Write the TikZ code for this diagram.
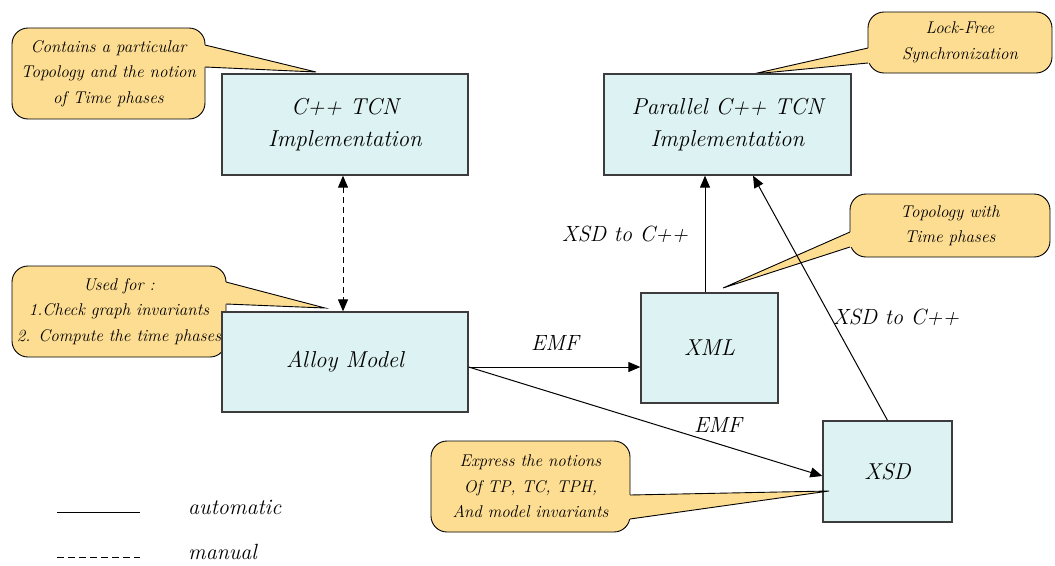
\documentclass[tikz,border=0pt]{standalone}
\usepackage{fontspec}
\usetikzlibrary{arrows.meta,calc}
\definecolor{boxfill}{RGB}{221,242,242}
\definecolor{boxline}{RGB}{60,60,60}
\definecolor{notefill}{RGB}{253,221,145}

\begin{document}
\begin{tikzpicture}[x=1pt,y=-1pt,
  procbox/.style={draw=boxline, line width=1.3pt, fill=boxfill, inner sep=0pt,
    align=center, font=\fontsize{23}{32}\selectfont\itshape},
  notebox/.style={draw=black, line width=0.9pt, fill=notefill, rounded corners=16pt,
    inner sep=0pt, align=center, font=\fontsize{17}{25.5}\selectfont\itshape},
  noteedge/.style={draw=black, line width=0.9pt, line join=miter},
  lbl/.style={font=\fontsize{22}{26}\selectfont\itshape, inner sep=0pt},
  flow/.style={line width=1pt, -{Triangle[length=12pt,width=10pt]}},
  manualflow/.style={line width=1pt, dash pattern=on 6pt off 4pt,
    {Triangle[length=12pt,width=10pt]}-{Triangle[length=12pt,width=10pt]}},
]
\useasboundingbox (0,0) rectangle (1055,565);

% ---- notes drawn beneath the boxes ----
% note on the sequential implementation
\node[notebox, minimum width=193pt, minimum height=91pt] (n1) at (108.5,73.5)
  {Contains a particular\\Topology and the notion\\of Time phases};
\coordinate (n1a) at (205,45); \coordinate (n1b) at (205,67); \coordinate (n1t) at (316,72);
\fill[notefill] ([xshift=-3pt]n1a) -- (n1a) -- (n1t) -- (n1b) -- ([xshift=-3pt]n1b) -- cycle;
\draw[noteedge] (n1a) -- (n1t) -- (n1b);

% note on the parallel implementation
\node[notebox, minimum width=184pt, minimum height=61pt] (n2) at (960,42.5)
  {Lock-Free\\Synchronization};
\coordinate (n2a) at (868,48); \coordinate (n2b) at (868,63); \coordinate (n2t) at (753,74);
\fill[notefill] ([xshift=3pt]n2a) -- (n2a) -- (n2t) -- (n2b) -- ([xshift=3pt]n2b) -- cycle;
\draw[noteedge] (n2a) -- (n2t) -- (n2b);

% note on the XML file
\node[notebox, minimum width=200pt, minimum height=63pt] (n3) at (950,225.5)
  {Topology with\\Time phases};
\coordinate (n3a) at (850,232); \coordinate (n3b) at (850,247); \coordinate (n3t) at (723,288);
\fill[notefill] ([xshift=3pt]n3a) -- (n3a) -- (n3t) -- (n3b) -- ([xshift=3pt]n3b) -- cycle;
\draw[noteedge] (n3a) -- (n3t) -- (n3b);

% note on the Alloy model
\node[notebox, minimum width=214pt, minimum height=91pt] (n4) at (119,311.5)
  {Used for :\\1.Check graph invariants\\2. Compute the time phases};
\coordinate (n4a) at (226,282); \coordinate (n4b) at (226,304); \coordinate (n4t) at (325,308);
\fill[notefill] ([xshift=-3pt]n4a) -- (n4a) -- (n4t) -- (n4b) -- ([xshift=-3pt]n4b) -- cycle;
\draw[noteedge] (n4a) -- (n4t) -- (n4b);

% ---- process boxes ----
\node[procbox, minimum width=246pt, minimum height=101pt] (cpp) at (345,124.5)
  {C++ TCN\\Implementation};
\node[procbox, minimum width=247pt, minimum height=101pt] (par) at (727.5,124.5)
  {Parallel C++ TCN\\Implementation};
\node[procbox, minimum width=246pt, minimum height=100pt] (alloy) at (345,362)
  {Alloy Model};
\node[procbox, minimum width=137pt, minimum height=110pt] (xml) at (709.5,348)
  {XML};
\node[procbox, minimum width=129pt, minimum height=101pt] (xsd) at (887.5,471.5)
  {XSD};

% ---- connectors ----
\draw[manualflow] ([xshift=-2pt]cpp.south) -- ([xshift=-2pt]alloy.north);

\coordinate (aout) at ([yshift=-5pt]alloy.east);
\draw[flow] (aout) -- (aout -| xml.west);
\node[lbl] (emf1) at (555,343) {EMF};

\draw[flow] (aout) -- ([yshift=-4.5pt]xsd.west);
\node[lbl] (emf2) at (718,425) {EMF};

\coordinate (xmlup) at ([xshift=-4.5pt]xml.north);
\draw[flow] (xmlup) -- (xmlup |- par.south);
\node[lbl] (gen1) at (625,234) {XSD to C++};

\draw[flow] (xsd.north) -- ([xshift=25.5pt]par.south);
\node[lbl] (gen2) at (896,317) {XSD to C++};

% ---- note on the schema, drawn over its box ----
\node[notebox, minimum width=199pt, minimum height=91pt] (n5) at (530.5,486.5)
  {Express the notions\\Of TP, TC, TPH,\\And model invariants};
\coordinate (n5a) at (630,495); \coordinate (n5b) at (630,519); \coordinate (n5t) at (829,491);
\fill[notefill] ([xshift=-3pt]n5a) -- (n5a) -- (n5t) -- (n5b) -- ([xshift=-3pt]n5b) -- cycle;
\draw[noteedge] (n5a) -- (n5t) -- (n5b);

% ---- legend ----
\coordinate (la1) at (57,512); \coordinate (la2) at (140,512);
\coordinate (lm1) at (57,557); \coordinate (lm2) at (140,557);
\draw[line width=1pt] (la1) -- (la2);
\draw[line width=0.8pt, dash pattern=on 7pt off 4pt] (lm1) -- (lm2);
\node[lbl, anchor=west] (lauto) at (188,507) {automatic};
\node[lbl, anchor=west] (lman) at (188,552) {manual};
\end{tikzpicture}
\end{document}
